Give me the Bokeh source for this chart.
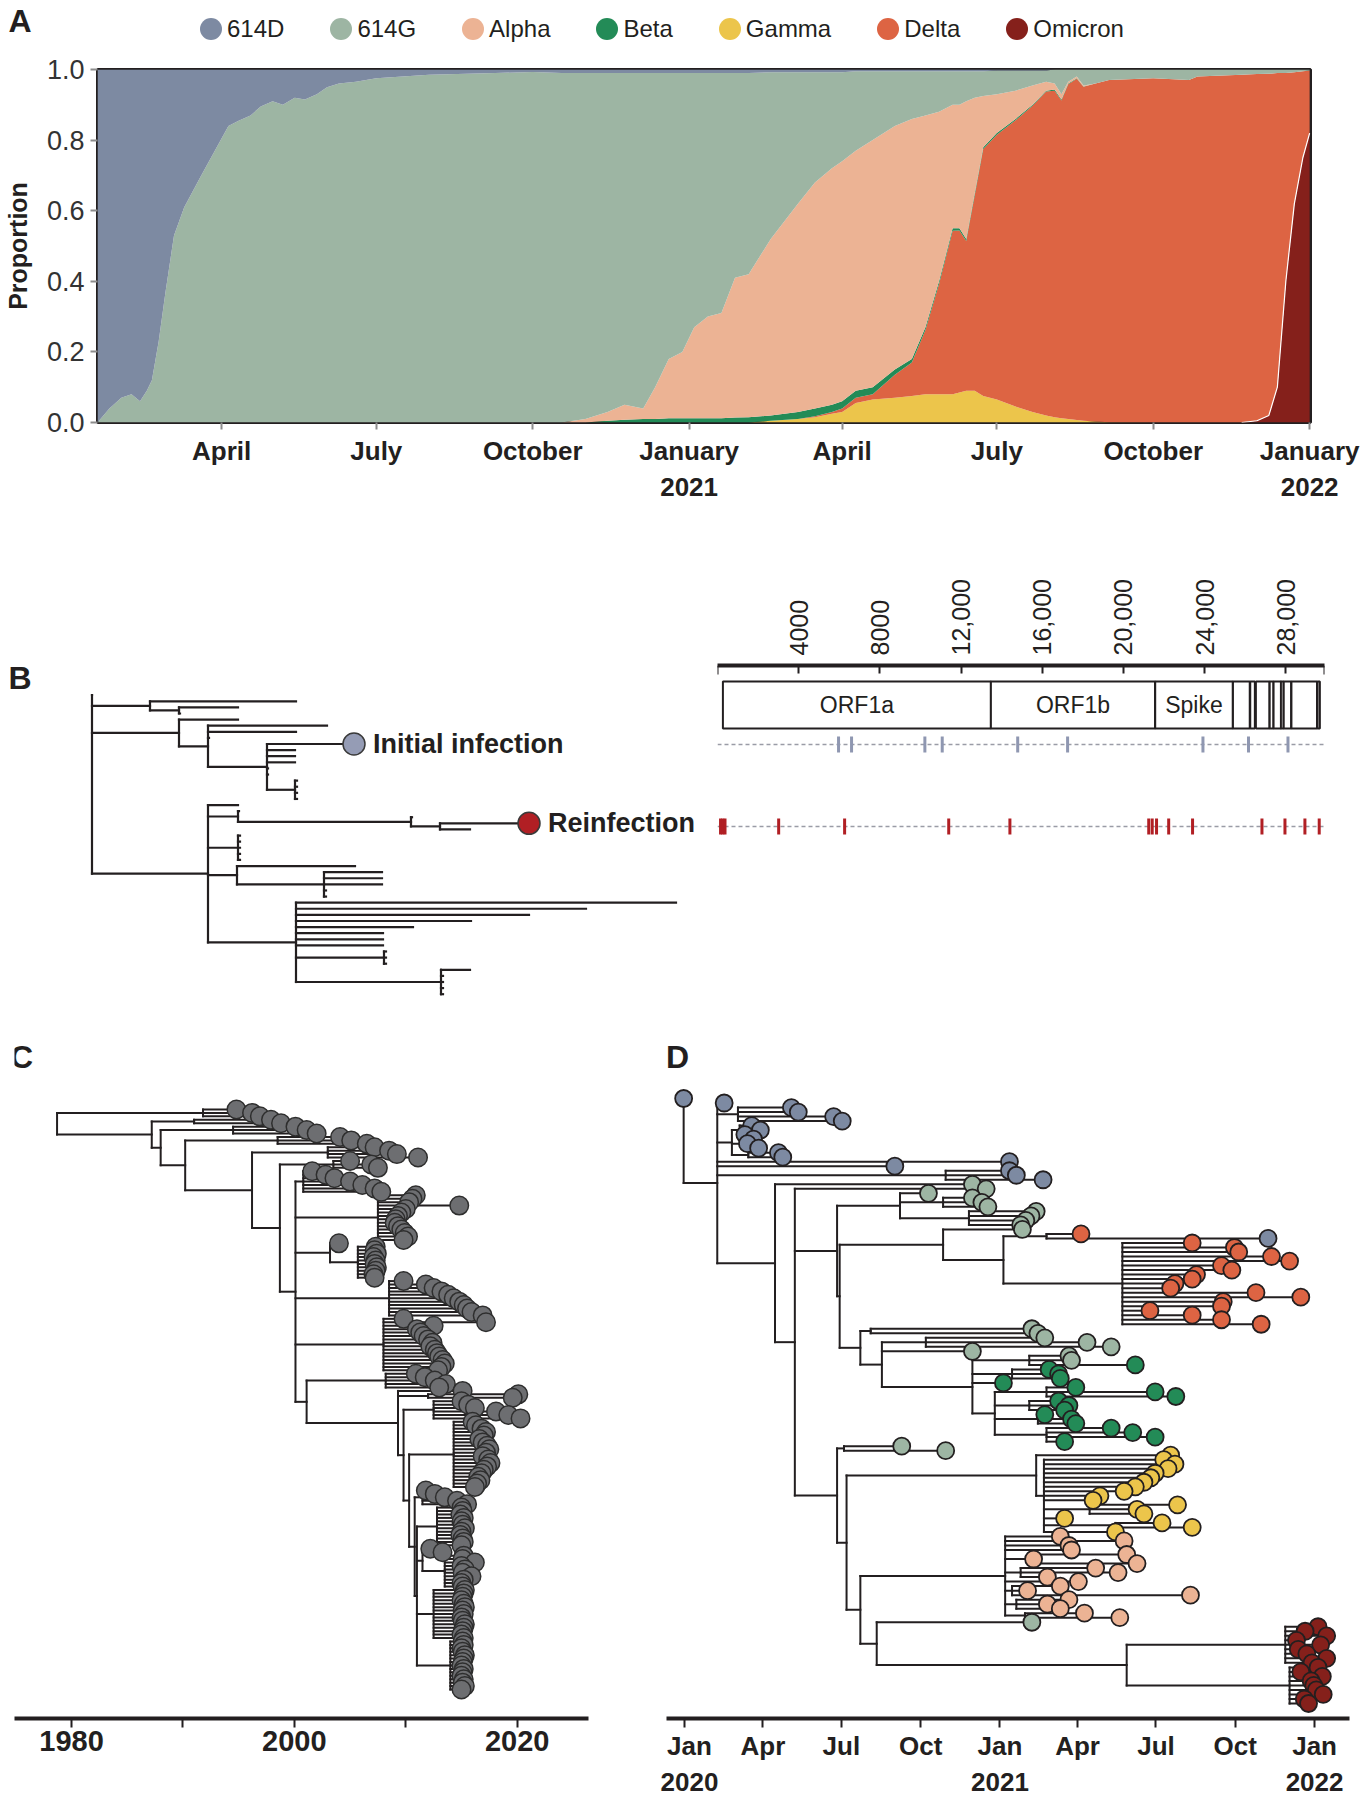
import re
from bokeh.plotting import figure
from bokeh.models import (ColumnDataSource, Range1d, FixedTicker, LinearAxis,
                          PrintfTickFormatter, Div)
from bokeh.layouts import column, row
from bokeh.embed import file_html
from bokeh.resources import INLINE
from bokeh.core.properties import value

SANS = "'Liberation Sans', Arial, sans-serif"
INK = "#231f20"

# ------------------------------------------------------------------ data
VARIANTS = ["614D", "614G", "Alpha", "Beta", "Gamma", "Delta", "Omicron"]
VARIANT_COLORS = ["#7d8aa2", "#9db5a3", "#ecb394", "#238b57", "#ecc54b", "#dd6443", "#85201b"]
STACK_ORDER = ["Omicron", "Gamma", "Delta", "Beta", "Alpha", "614G", "614D"]

# Panel A: days since 2020-01-01 and variant proportions
A_DAY = [18, 25, 32, 38, 43, 47, 50, 54, 58, 63,
         69, 79, 87, 95, 101, 108, 114, 121, 127, 134,
         140, 147, 153, 160, 170, 182, 213, 252, 274, 291,
         305, 318, 328, 339, 346, 354, 362, 369, 377, 385,
         393, 401, 414, 430, 440, 450, 456, 464, 474, 487,
         497, 505, 513, 521, 525, 529, 534, 539, 547, 558,
         568, 576, 581, 585, 589, 594, 598, 605, 613, 639,
         660, 665, 691, 700, 707, 712, 717, 722, 727, 731]
A_614D = [1.00, 0.96, 0.93, 0.92, 0.94, 0.91, 0.88, 0.77, 0.63, 0.47,
          0.39, 0.30, 0.23, 0.16, 0.145, 0.13, 0.105, 0.09, 0.10, 0.08,
          0.085, 0.07, 0.05, 0.04, 0.035, 0.025, 0.015, 0.01, 0.007, 0.01,
          0.01, 0.01, 0.01, 0.01, 0.01, 0.01, 0.01, 0.01, 0.01, 0.01,
          0.01, 0.01, 0.008, 0.008, 0.008, 0.008, 0.008, 0.005, 0.005, 0.005,
          0.005, 0.005, 0.005, 0.005, 0.005, 0.005, 0.005, 0.005, 0.003, 0.003,
          0.003, 0.003, 0, 0, 0, 0, 0, 0, 0, 0,
          0, 0, 0, 0, 0, 0, 0, 0, 0, 0]
A_614G = [0.00, 0.04, 0.07, 0.08, 0.06, 0.09, 0.12, 0.23, 0.37, 0.53,
          0.61, 0.70, 0.77, 0.84, 0.855, 0.87, 0.895, 0.91, 0.90, 0.92,
          0.915, 0.93, 0.95, 0.96, 0.965, 0.975, 0.985, 0.99, 0.993, 0.99,
          0.98, 0.96, 0.94, 0.95, 0.89, 0.81, 0.79, 0.72, 0.69, 0.68,
          0.58, 0.57, 0.472, 0.372, 0.312, 0.272, 0.252, 0.225, 0.195, 0.155,
          0.135, 0.125, 0.115, 0.095, 0.095, 0.085, 0.075, 0.07, 0.067, 0.057,
          0.042, 0.032, 0.04, 0.07, 0.035, 0.02, 0.045, 0.04, 0.03, 0.025,
          0.03, 0.02, 0.015, 0.013, 0.012, 0.01, 0.01, 0.008, 0.005, 0.003]
A_ALPHA = [0, 0, 0, 0, 0, 0, 0, 0, 0, 0,
           0, 0, 0, 0, 0, 0, 0, 0, 0, 0,
           0, 0, 0, 0, 0, 0, 0, 0, 0, 0,
           0.01, 0.025, 0.042, 0.03, 0.09, 0.168, 0.188, 0.258, 0.288, 0.298,
           0.396, 0.405, 0.50, 0.59, 0.64, 0.67, 0.68, 0.68, 0.70, 0.69,
           0.68, 0.60, 0.48, 0.35, 0.35, 0.39, 0.27, 0.145, 0.11, 0.08,
           0.055, 0.025, 0.017, 0.015, 0.005, 0.005, 0.003, 0, 0, 0,
           0, 0, 0, 0, 0, 0, 0, 0, 0, 0]
A_BETA = [0, 0, 0, 0, 0, 0, 0, 0, 0, 0,
          0, 0, 0, 0, 0, 0, 0, 0, 0, 0,
          0, 0, 0, 0, 0, 0, 0, 0, 0, 0,
          0, 0.005, 0.008, 0.01, 0.01, 0.012, 0.012, 0.012, 0.012, 0.012,
          0.014, 0.015, 0.015, 0.02, 0.022, 0.02, 0.02, 0.02, 0.02, 0.015,
          0.01, 0.008, 0.008, 0.007, 0.006, 0.006, 0.006, 0.005, 0.005, 0.004,
          0.003, 0.002, 0.003, 0.003, 0.002, 0.001, 0.001, 0, 0, 0,
          0, 0, 0, 0, 0, 0, 0, 0, 0, 0]
A_GAMMA = [0, 0, 0, 0, 0, 0, 0, 0, 0, 0,
           0, 0, 0, 0, 0, 0, 0, 0, 0, 0,
           0, 0, 0, 0, 0, 0, 0, 0, 0, 0,
           0, 0, 0, 0, 0, 0, 0, 0, 0, 0,
           0, 0, 0.005, 0.01, 0.015, 0.025, 0.03, 0.055, 0.065, 0.07,
           0.075, 0.08, 0.08, 0.08, 0.085, 0.09, 0.09, 0.075, 0.065, 0.045,
           0.03, 0.02, 0.015, 0.012, 0.01, 0.007, 0.005, 0.003, 0.001, 0,
           0, 0, 0, 0, 0, 0, 0, 0, 0, 0]
A_DELTA = [0, 0, 0, 0, 0, 0, 0, 0, 0, 0,
           0, 0, 0, 0, 0, 0, 0, 0, 0, 0,
           0, 0, 0, 0, 0, 0, 0, 0, 0, 0,
           0, 0, 0, 0, 0, 0, 0, 0, 0, 0,
           0, 0, 0, 0, 0.003, 0.005, 0.01, 0.015, 0.015, 0.065,
           0.095, 0.182, 0.312, 0.463, 0.459, 0.424, 0.554, 0.70, 0.75, 0.811,
           0.867, 0.918, 0.925, 0.90, 0.948, 0.967, 0.946, 0.957, 0.969, 0.975,
           0.97, 0.98, 0.985, 0.982, 0.968, 0.89, 0.59, 0.372, 0.245, 0.177]
A_OMICRON = [0, 0, 0, 0, 0, 0, 0, 0, 0, 0,
             0, 0, 0, 0, 0, 0, 0, 0, 0, 0,
             0, 0, 0, 0, 0, 0, 0, 0, 0, 0,
             0, 0, 0, 0, 0, 0, 0, 0, 0, 0,
             0, 0, 0, 0, 0, 0, 0, 0, 0, 0,
             0, 0, 0, 0, 0, 0, 0, 0, 0, 0,
             0, 0, 0, 0, 0, 0, 0, 0, 0, 0,
             0, 0, 0, 0.005, 0.02, 0.10, 0.40, 0.62, 0.75, 0.82]
A_TICKS = [91, 182, 274, 366, 456, 547, 639, 731]
A_TICK_LABELS = ["April", "July", "October", "January\n2021",
                 "April", "July", "October", "January\n2022"]

# Panel B: tree (branch lengths) and genome
B_TREE = """
(Z:0,
 (L:146,(L:59,L:1):29):58,
 (L:59,(L:119,L:88,L:1,(I:87,L:28,L:28,L:28,L:1,L:1,(L:2,L:2,L:2,L:2):28):59):29):87,
 (L:30,
  (L:1,(L:1,(R:89,L:30):29):173):30,
  (L:2,L:2,L:2,L:2,L:2):30,
  (L:118,(L:58,L:58,L:58,L:2,L:2):87):29,
  (L:380,L:290,L:233,L:175,L:117,L:87,L:87,L:87,(L:2,L:2,L:2):88,(L:29,L:2,L:2,L:2,L:2):145):88
 ):116
)
"""
B_LABELS = {"I": "Initial infection", "R": "Reinfection"}
B_MARK_COLORS = {"I": "#959cb5", "R": "#b11f24"}

GENOME_LENGTH = 29903
GENE_NAMES = ["ORF1a", "ORF1b", "Spike", "ORF3a", "E", "M", "ORF6", "ORF7a", "ORF7b", "ORF8", "N", "ORF10"]
GENE_LABELS = ["ORF1a", "ORF1b", "Spike", "", "", "", "", "", "", "", "", ""]
GENE_START = [266, 13468, 21563, 25393, 26245, 26523, 27202, 27394, 27756, 27894, 28274, 29558]
GENE_END = [13468, 21555, 25384, 26220, 26472, 27191, 27387, 27759, 27887, 28259, 29533, 29674]
GENOME_TICKS = [4000, 8000, 12000, 16000, 20000, 24000, 28000]
GENOME_TICK_LABELS = ["4000", "8000", "12,000", "16,000", "20,000", "24,000", "28,000"]
INITIAL_MUTATIONS = [5963, 6604, 10216, 11071, 14789, 17247, 23915, 26159, 28104]
REINFECTION_MUTATIONS = [150, 260, 370, 3013, 6262, 11391, 14405, 21244, 21415, 21629,
                         22227, 23403, 26822, 27955, 28938, 29643]

# Panel C: time tree (node dates in decimal years)
C_TREE = """
((:1994.8,:1996.2,:1996.9):1991.8,
 ((:1997.9,:1998.8):1991.0,
  ((:2000.1,:2001.1,:2002.0):1994.5,
   ((:2004.1,:2005.1,:2006.5):1998.5,
    ((:2007.2,:2008.5,:2009.2,:2011.1):2003.0,
     ((:2005.0,:2006.9,:2007.5):2003.5,
      ((:2001.6,:2002.8,:2003.6,:2005.0,:2006.1,:2007.2,:2007.8):2000.8,
       (:2010.9,:2010.6,:2010.3,:2014.8,:2010.0,:2009.6,:2009.3,:2009.1,:2009.0,:2009.3,:2009.6,:2009.9,:2010.2,:2009.8):2007.5,
       (:2004.0,(:2007.3,:2007.2,:2007.4,:2007.1,:2007.3,:2007.2,:2007.4,:2007.3,:2007.1,:2007.2):2005.7):2003.2,
       (:2009.8,:2011.8,:2012.5,:2013.2,:2013.8,:2014.3,:2014.8,:2015.2,:2015.5,:2015.9,:2016.9):2008.5,
       (:2009.8,:2017.2,:2012.5,:2011.0,:2011.3,:2011.6,:2012.0,:2012.4,:2012.2,:2012.6,:2012.8,:2013.0,:2013.3,:2013.5,:2013.2,:2012.9):2008.0,
       ((:2010.9,:2011.7,:2012.6,:2013.6,:2013.0):2008.2,
        (:2015.1,
         (:2020.1,:2019.6):2012.0,
         ((:2015.0,:2015.6,:2016.2,:2018.1,:2019.2,:2020.3):2012.5,
          ((:2016.0,:2016.3,:2016.8,:2017.2,:2017.0,:2016.6,:2016.9,:2017.3,:2017.5,:2017.2,:2016.9,:2017.4,:2017.6,:2017.3,:2017.0,:2016.8,:2016.5,:2016.7,:2016.4,:2016.2):2014.3,
           ((:2011.8,:2012.6,:2013.5,:2014.6,:2015.5):2011.5,
            ((:2015.0,:2015.1,:2014.9,:2015.2,:2015.0,:2015.1,:2015.3,:2015.0,:2014.9,:2015.1,:2015.2,:2015.0):2012.8,
             ((:2012.2,:2013.3):2011.8,(:2015.2,:2015.1,:2016.2,:2015.0,:2015.3,:2015.1,:2015.9,:2015.2,:2015.0,:2015.1):2013.5):2011.5,
             (:2015.3,:2015.2,:2015.1,:2015.0,:2015.2,:2015.3,:2015.1,:2015.2,:2015.0,:2015.1,:2015.3,:2015.2,:2015.1,:2015.0,:2015.2):2012.5,
             (:2015.1,:2015.2,:2015.0,:2015.1,:2015.3,:2015.2,:2015.1,:2015.0,:2015.2,:2015.1,:2015.0,:2015.2,:2015.1,:2015.3,:2015.0):2014.0
            ):2011.0
           ):2010.8
          ):2010.3
         ):2009.8
        ):2009.3
       ):2001.1
      ):2000.1
     ):1998.7
    ):1996.2
   ):1990.2
  ):1988.0
 ):1987.2
):1978.7
"""
C_TICKS = [1980, 1990, 2000, 2010, 2020]
C_TICK_LABELS = ["1980", "", "2000", "", "2020"]

# Panel D: time tree (node dates in days since 2020-01-01), leaf label = variant code
D_CODES = {"D": "614D", "G": "614G", "a": "Alpha", "b": "Beta", "g": "Gamma", "d": "Delta", "o": "Omicron"}
D_TREE = """
(D:-1,
 (D:46,
  (D:124,D:132,D:173,D:183):62,
  ((D:78,D:88,D:70):64,(D:80,D:73,D:86):66,(D:109,D:114):74):55,
  D:377,
  D:244,
  (D:377,D:385,D:416):303,
  (G:334,
   (G:350,
    ((G:283,(G:334,G:345,G:352):300,(G:408,G:402,G:396,G:390):330):250,
     ((G:392,
       ((d:460,D:677):420,
        (d:589,d:638,d:643,d:681,d:702,d:623,d:635,d:594,d:589,d:569,d:564,d:663,d:715,d:625,d:623,d:540,d:589,d:623,d:669):508
       ):370
      ):300,
      ((G:403,G:410):216,
       ((G:418,G:467,G:495):280,
        G:334,
        ((G:446,G:449,b:523):400,
         (b:423,b:434,b:436):380,
         b:370,
         ((b:454,b:546,b:570):420,(b:434,b:446,b:441):400,(b:418,b:449,b:454):410,(b:495,b:520,b:546,b:441):420):360
        ):334
       ):229
      ):204
     ):180
    ):177,
    ((G:252,G:303):185,
     ((g:564,(g:556,g:569,g:561,g:546,g:541,g:533,g:523,g:510,g:482,g:474,(g:572,g:525,g:533):470,g:441,(g:554,g:589):500,g:500):417):408,
      ((a:436,a:510,a:446,a:449,(a:513,a:405,a:525):400,(a:477,a:503,a:421):390,a:457,(a:436,a:398,a:587):380,(a:446,a:421,a:436):385,(a:464,a:505):395):372,
       (G:403,
        ((o:735,o:720,o:745,o:710,o:738,o:712,o:722,o:745,o:728):697,
         (o:735,o:715,o:740,o:727,o:730,o:733,o:741,o:719,o:724):702):513
       ):223
      ):204
     ):188
    ):177
   ):128
  ):105
 ):38
):-1
"""
D_TICKS = [0, 91, 182, 274, 366, 456, 547, 639, 731]
D_TICK_LABELS = ["Jan\n2020", "Apr", "Jul", "Oct", "Jan\n2021", "Apr", "Jul", "Oct", "Jan\n2022"]

COLOR = dict(zip(VARIANTS, VARIANT_COLORS))
for arr in (A_614D, A_614G, A_ALPHA, A_BETA, A_GAMMA, A_DELTA, A_OMICRON):
    assert len(arr) == len(A_DAY)

# ------------------------------------------------------------------ helpers
_TOKEN = re.compile(r"([^:,()]*)(?::(-?[0-9.]+))?")


def parse_newick(text):
    s = re.sub(r"\s+", "", text)
    pos = 0

    def node():
        nonlocal pos
        kids = []
        if s[pos] == "(":
            pos += 1
            kids.append(node())
            while s[pos] == ",":
                pos += 1
                kids.append(node())
            if s[pos] != ")":
                raise ValueError("bad tree at %d" % pos)
            pos += 1
        m = _TOKEN.match(s, pos)
        pos = m.end()
        return {"label": m.group(1), "t": float(m.group(2)) if m.group(2) else 0.0, "kids": kids}

    return node()


def layout_tree(tree, cumulative):
    out = {k: [] for k in ("lx", "ly", "lab", "x0", "y0", "x1", "y1")}
    count = [0]

    def rec(nd, px):
        if cumulative:
            x = 0.0 if px is None else px + nd["t"]
        else:
            x = nd["t"]
        if nd["kids"]:
            ys = [rec(k, x) for k in nd["kids"]]
            y = (ys[0] + ys[-1]) / 2.0
            out["x0"].append(x); out["y0"].append(ys[0])
            out["x1"].append(x); out["y1"].append(ys[-1])
        else:
            y = float(count[0]); count[0] += 1
            out["lx"].append(x); out["ly"].append(y); out["lab"].append(nd["label"])
        if px is not None:
            out["x0"].append(px); out["y0"].append(y)
            out["x1"].append(x); out["y1"].append(y)
        return y

    rec(tree, None)
    return out


def leaf_range(n, first_y, last_y, frame_top, frame_bottom):
    s = (last_y - first_y) / (n - 1)
    return Range1d(start=(frame_bottom - first_y) / s, end=(frame_top - first_y) / s)


def panel_letter(p, text, page_x, page_y, frame_left, frame_top):
    # anchored at the frame's top-left corner, offset in screen pixels
    p.text(x=[p.x_range.start], y=[p.y_range.end], text=[text],
           x_offset=page_x - frame_left, y_offset=page_y - frame_top,
           text_font=value(SANS), text_font_style="bold", text_font_size="32px",
           text_color=INK, text_align="center", text_baseline="middle")


def bare(p):
    p.grid.visible = False
    p.outline_line_color = None
    p.background_fill_color = None
    p.border_fill_color = None


# page geometry (page origin at the top-left of the layout)
W = 1360
HEAD_H, A_H, B_H, CD_H = 48, 457, 515, 780
A_Y0 = HEAD_H
B_Y0 = A_Y0 + A_H
CD_Y0 = B_Y0 + B_H
CD_Y1 = CD_Y0 + CD_H

# ------------------------------------------------------------------ header: panel letter + legend
legend_items = "".join(
    '<span style="flex:none;width:22px;height:22px;border-radius:50%;background:{c};"></span>'
    '<span style="margin-left:5px;margin-right:46px;">{n}</span>'.format(c=c, n=n)
    for n, c in zip(VARIANTS, VARIANT_COLORS))
header_html = (
    '<div style="position:relative;width:{w}px;height:{h}px;">'
    '<div style="position:absolute;left:20px;top:21px;transform:translate(-50%,-50%);'
    'font:bold 32px {f};color:{ink};line-height:1;">A</div>'
    '<div style="position:absolute;left:200px;top:29px;transform:translateY(-50%);display:flex;'
    'align-items:center;white-space:nowrap;font:24px {f};color:{ink};line-height:1;">{items}</div>'
    '</div>').format(w=W, h=HEAD_H, f=SANS, ink=INK, items=legend_items)
header = Div(text=header_html, width=W, height=HEAD_H, margin=0)

# ------------------------------------------------------------------ panel A
srcA = ColumnDataSource({"day": A_DAY, "614D": A_614D, "614G": A_614G, "Alpha": A_ALPHA,
                         "Beta": A_BETA, "Gamma": A_GAMMA, "Delta": A_DELTA, "Omicron": A_OMICRON})
A_FL, A_FR, A_FT, A_FB = 94, 1310, 69, 422
pA = figure(width=W, height=A_H, output_backend="svg", toolbar_location=None,
            x_range=Range1d(18, 731.5), y_range=Range1d(0, 1),
            min_border_left=A_FL, min_border_right=W - A_FR,
            min_border_top=A_FT - A_Y0, min_border_bottom=A_Y0 + A_H - A_FB)
pA.varea_stack(stackers=STACK_ORDER, x="day", color=[COLOR[v] for v in STACK_ORDER], source=srcA)
om_idx = [i for i in range(len(A_DAY)) if A_OMICRON[i] > 0 or (i + 1 < len(A_DAY) and A_OMICRON[i + 1] > 0)]
pA.line(x=[A_DAY[i] for i in om_idx], y=[A_OMICRON[i] for i in om_idx], line_color="white", line_width=1.2)

pA.grid.visible = False
pA.outline_line_color = INK
pA.outline_line_width = 3
pA.xaxis.ticker = FixedTicker(ticks=A_TICKS)
pA.xaxis.major_label_overrides = dict(zip(A_TICKS, A_TICK_LABELS))
pA.yaxis.ticker = FixedTicker(ticks=[0, 0.2, 0.4, 0.6, 0.8, 1.0])
pA.yaxis.formatter = PrintfTickFormatter(format="%.1f")
for ax in (pA.xaxis[0], pA.yaxis[0]):
    ax.axis_line_color = None
    ax.major_tick_line_color = "#8c8c8c"
    ax.major_tick_line_width = 2
    ax.major_tick_out = 7
    ax.major_tick_in = 0
    ax.minor_tick_line_color = None
pA.xaxis.major_label_text_font = SANS
pA.xaxis.major_label_text_font_style = "bold"
pA.xaxis.major_label_text_font_size = "26px"
pA.xaxis.major_label_text_color = INK
pA.xaxis.major_label_standoff = 6
pA.yaxis.major_label_text_font = SANS
pA.yaxis.major_label_text_font_size = "27px"
pA.yaxis.major_label_text_color = "#333333"
pA.yaxis.major_label_standoff = 6
pA.yaxis.axis_label = "Proportion"
pA.yaxis.axis_label_text_font = SANS
pA.yaxis.axis_label_text_font_style = "bold"
pA.yaxis.axis_label_text_font_size = "25px"
pA.yaxis.axis_label_text_color = INK
pA.yaxis.axis_label_standoff = 12

# ------------------------------------------------------------------ panel B (tree)
B_FT = 665          # frame top shared by both panel-B plots (genome axis line)
b_lay = layout_tree(parse_newick(B_TREE), cumulative=True)
nB = len(b_lay["ly"])
pB1 = figure(width=700, height=B_H, output_backend="svg", toolbar_location=None,
             x_range=Range1d(0 - 91.5, 700 - 91.5),
             y_range=leaf_range(nB, 694.7, 993.7, B_FT, B_Y0 + B_H),
             x_axis_location=None, y_axis_location=None,
             min_border_left=0, min_border_right=0, min_border_top=B_FT - B_Y0, min_border_bottom=0)
bare(pB1)
pB1.segment(x0=b_lay["x0"], y0=b_lay["y0"], x1=b_lay["x1"], y1=b_lay["y1"],
            line_color=INK, line_width=2.2, line_cap="square")
mk = [i for i, l in enumerate(b_lay["lab"]) if l in B_LABELS]
pB1.scatter(x=[b_lay["lx"][i] for i in mk], y=[b_lay["ly"][i] for i in mk], size=22,
            fill_color=[B_MARK_COLORS[b_lay["lab"][i]] for i in mk], line_color="#3a3a3a", line_width=1.5)
pB1.text(x=[b_lay["lx"][i] for i in mk], y=[b_lay["ly"][i] for i in mk],
         text=[B_LABELS[b_lay["lab"][i]] for i in mk], x_offset=19,
         text_font=value(SANS), text_font_style="bold", text_font_size="27px",
         text_color=INK, text_baseline="middle", text_align="left")
panel_letter(pB1, "B", 19.5, 677, 0, B_FT)

# ------------------------------------------------------------------ panel B (genome)
G_FL, G_FR = 717, 1324
pB2 = figure(width=W - 700, height=B_H, output_backend="svg", toolbar_location=None,
             x_range=Range1d(0, GENOME_LENGTH), y_range=Range1d(B_Y0 + B_H - B_FT, 0),
             x_axis_location=None, y_axis_location=None,
             min_border_left=G_FL - 700, min_border_right=W - G_FR,
             min_border_top=B_FT - B_Y0, min_border_bottom=0)
bare(pB2)
gax = LinearAxis(ticker=FixedTicker(ticks=GENOME_TICKS),
                 major_label_overrides=dict(zip(GENOME_TICKS, GENOME_TICK_LABELS)),
                 major_label_orientation="vertical", major_label_standoff=10,
                 major_label_text_font=SANS, major_label_text_font_size="25px",
                 major_label_text_color=INK, axis_line_color=INK, axis_line_width=4,
                 major_tick_line_color=INK, major_tick_line_width=2, major_tick_in=8,
                 major_tick_out=0, minor_tick_line_color=None)
pB2.add_layout(gax, "above")
# vertical positions (screen px below the genome axis line)
BOX_TOP, BOX_BOTTOM = 681 - B_FT, 728 - B_FT
ROW_INIT, ROW_RE = 744 - B_FT, 826 - B_FT
pB2.segment(x0=[0, GENOME_LENGTH], y0=[0, 0], x1=[0, GENOME_LENGTH], y1=[9, 9],
            line_color=INK, line_width=2)
pB2.quad(left=GENE_START, right=GENE_END, top=BOX_TOP, bottom=BOX_BOTTOM,
         fill_color="white", line_color=INK, line_width=2)
li = [i for i, t in enumerate(GENE_LABELS) if t]
pB2.text(x=[(GENE_START[i] + GENE_END[i]) / 2 for i in li], y=[(BOX_TOP + BOX_BOTTOM) / 2] * len(li),
         text=[GENE_LABELS[i] for i in li], text_font=value(SANS), text_font_size="23px",
         text_color=INK, text_align="center", text_baseline="middle")
for row_y, muts, col in ((ROW_INIT, INITIAL_MUTATIONS, "#8f97b1"), (ROW_RE, REINFECTION_MUTATIONS, "#b11f24")):
    pB2.segment(x0=[0], y0=[row_y], x1=[GENOME_LENGTH], y1=[row_y],
                line_color="#9a9ca6", line_width=1.5, line_dash="4 3")
    pB2.segment(x0=muts, y0=[row_y - 8] * len(muts), x1=muts, y1=[row_y + 8] * len(muts),
                line_color=col, line_width=3)

# ------------------------------------------------------------------ panels C & D
F_TOP, F_BOT = 1035, 1718


def time_axis(p, ticks, labels, size):
    p.xaxis.ticker = FixedTicker(ticks=ticks)
    p.xaxis.major_label_overrides = dict(zip(ticks, labels))
    p.xaxis.axis_line_color = INK
    p.xaxis.axis_line_width = 4
    p.xaxis.major_tick_line_color = INK
    p.xaxis.major_tick_line_width = 2
    p.xaxis.major_tick_out = 9
    p.xaxis.major_tick_in = 0
    p.xaxis.minor_tick_line_color = None
    p.xaxis.major_label_text_font = SANS
    p.xaxis.major_label_text_font_style = "bold"
    p.xaxis.major_label_text_font_size = size
    p.xaxis.major_label_text_color = INK
    p.xaxis.major_label_standoff = 3


c_lay = layout_tree(parse_newick(C_TREE), cumulative=False)
nC = len(c_lay["ly"])
C_FL, C_FR = 14, 588
pC = figure(width=660, height=CD_H, output_backend="svg", toolbar_location=None,
            x_range=Range1d(1974.88, 2026.4), y_range=leaf_range(nC, 1109, 1689, F_TOP, F_BOT),
            y_axis_location=None, min_border_left=C_FL, min_border_right=660 - C_FR,
            min_border_top=F_TOP - CD_Y0, min_border_bottom=CD_Y1 - F_BOT)
bare(pC)
time_axis(pC, C_TICKS, C_TICK_LABELS, "29px")
pC.segment(x0=c_lay["x0"], y0=c_lay["y0"], x1=c_lay["x1"], y1=c_lay["y1"],
           line_color=INK, line_width=2, line_cap="square")
pC.scatter(x=c_lay["lx"], y=c_lay["ly"], size=18.5, fill_color="#6d6e71",
           line_color="#2e2e2e", line_width=1.5)
panel_letter(pC, "C", 21, 1056, C_FL, F_TOP)

d_lay = layout_tree(parse_newick(D_TREE), cumulative=False)
nD = len(d_lay["ly"])
D_FL, D_FR = 666, 1349
pD = figure(width=W - 660, height=CD_H, output_backend="svg", toolbar_location=None,
            x_range=Range1d(-20.9, 771.5), y_range=leaf_range(nD, 1098, 1703, F_TOP, F_BOT),
            y_axis_location=None, min_border_left=D_FL - 660, min_border_right=W - D_FR,
            min_border_top=F_TOP - CD_Y0, min_border_bottom=CD_Y1 - F_BOT)
bare(pD)
time_axis(pD, D_TICKS, D_TICK_LABELS, "26px")
pD.segment(x0=d_lay["x0"], y0=d_lay["y0"], x1=d_lay["x1"], y1=d_lay["y1"],
           line_color=INK, line_width=2, line_cap="square")
pD.scatter(x=d_lay["lx"], y=d_lay["ly"], size=17,
           fill_color=[COLOR[D_CODES[c]] for c in d_lay["lab"]],
           line_color=INK, line_width=1.8)
panel_letter(pD, "D", 677, 1056, D_FL, F_TOP)

layout = column(header, pA, row(pB1, pB2), row(pC, pD))
open("out.html", "w").write(file_html(layout, INLINE))
